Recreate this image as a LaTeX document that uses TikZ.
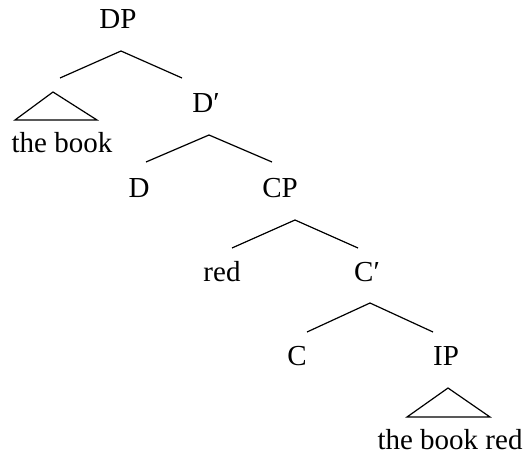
\documentclass[tikz,border=0pt]{standalone}
\usepackage{fontspec}
\setmainfont{Liberation Serif}
\usetikzlibrary{positioning}

\begin{document}
\begin{tikzpicture}[x=1pt, y=-1pt,
    lbl/.style={anchor=base, inner sep=0pt, font=\fontsize{29}{34}\selectfont},
    branch/.style={line width=1.2pt, line join=miter}]
\useasboundingbox (0,0) rectangle (526,454);
% labels: name / text / x of centre / baseline (one unit is one pixel, y down)
\foreach \nm/\txt/\x/\y in {dp/DP/118/29,
                            tb/{the book}/62/153,
                            dbar/{D′}/206/113,
                            d/D/139/197,
                            cp/CP/280/197,
                            red/red/222/281,
                            cbar/{C′}/367/281,
                            c/C/297/365,
                            ip/IP/446/365,
                            tbr/{the book red}/450/449}{%
  \node[lbl] (\nm) at (\x,\y) {\txt};}
% apex and ends of each branching
\foreach \nm/\ax/\ay/\lx/\rx/\ey in {dp/121/51/60/182/78,
                                     dbar/209/135/146/272/162,
                                     cp/295/220/232/358/248,
                                     cbar/370/303/307/433/332}{%
  \coordinate (\nm-a) at (\ax,\ay);
  \coordinate (\nm-l) at (\lx,\ey);
  \coordinate (\nm-r) at (\rx,\ey);
  \draw[branch] (\nm-l) -- (\nm-a) -- (\nm-r);}
% triangles over the phrases
\foreach \nm/\tx/\ty/\lx/\rx/\by in {tb/53/92/15/97/120,
                                     tbr/448/388/407/490/417}{%
  \coordinate (\nm-t) at (\tx,\ty);
  \coordinate (\nm-bl) at (\lx,\by);
  \coordinate (\nm-br) at (\rx,\by);
  \draw[branch] (\nm-t) -- (\nm-bl) -- (\nm-br) -- cycle;}
\end{tikzpicture}
\end{document}
